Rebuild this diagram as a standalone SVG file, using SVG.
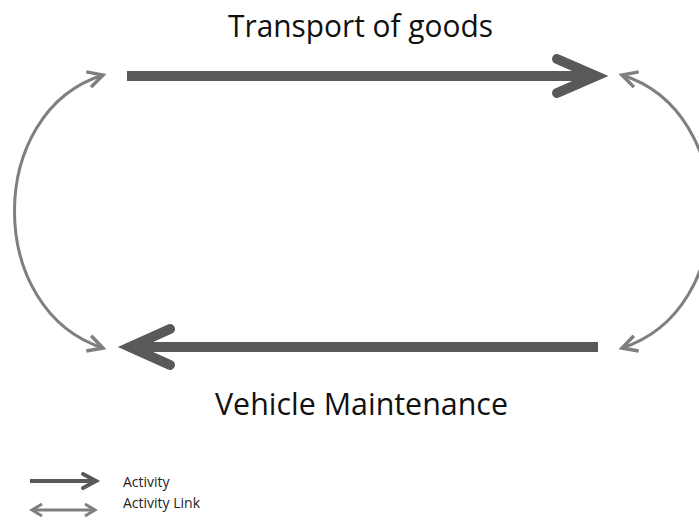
<svg xmlns="http://www.w3.org/2000/svg" width="699" height="521" viewBox="0 0 699 521">
<defs>
<style>
.act{stroke:#595959;stroke-width:10;fill:none;stroke-linecap:butt}
.head{stroke:#595959;stroke-width:10;fill:none;stroke-linecap:round;stroke-linejoin:miter}
.link{stroke:#7f7f7f;stroke-width:3;fill:none}
.lbl{font-family:"Open Sans","Liberation Sans",sans-serif;fill:#111}
.leg{font-family:"Open Sans","Liberation Sans",sans-serif;font-size:14px;fill:#222}
</style>
<marker id="lh" viewBox="-16 -10 20 20" markerWidth="20" markerHeight="20" refX="0" refY="0" orient="auto-start-reverse" markerUnits="userSpaceOnUse">
<path d="M-15,-8 L0,0 L-15,8" fill="none" stroke="#7f7f7f" stroke-width="3.5"/>
</marker>
<marker id="lhs" viewBox="-12 -8 16 16" markerWidth="16" markerHeight="16" refX="0" refY="0" orient="auto-start-reverse" markerUnits="userSpaceOnUse">
<path d="M-10,-6 L0,0 L-10,6" fill="none" stroke="#7f7f7f" stroke-width="3"/>
</marker>
</defs>
<rect width="699" height="521" fill="#fff"/>
<g id="label-transport">
<text class="lbl" x="228" y="37" font-size="31" textLength="265" lengthAdjust="spacingAndGlyphs">Transport of goods</text>
</g>
<g id="label-maintenance">
<text class="lbl" x="215" y="415" font-size="31" textLength="293" lengthAdjust="spacingAndGlyphs">Vehicle Maintenance</text>
</g>
<g id="connectors">
<g id="activity-transport">
<line class="act" x1="127" y1="76" x2="592" y2="76"/>
<path class="head" d="M557,59 L596,76 L557,93"/>
</g>
<g id="activity-maintenance">
<line class="act" x1="598" y1="347" x2="134" y2="347"/>
<path class="head" d="M170,329 L130,347 L170,365"/>
</g>
<path id="link-left" class="link" d="M103,348 C-15,310 -15,112 103,75" marker-start="url(#lh)" marker-end="url(#lh)"/>
<path id="link-right" class="link" d="M622,75 C740,112 740,310 622,348" marker-start="url(#lh)" marker-end="url(#lh)"/>
</g>
<g id="legend">
<line x1="30" y1="481" x2="92" y2="481" stroke="#595959" stroke-width="4"/>
<path d="M83,474 L96,481 L83,488" fill="none" stroke="#595959" stroke-width="4" stroke-linecap="round"/>
<line x1="32" y1="510" x2="95" y2="510" stroke="#7f7f7f" stroke-width="3" marker-start="url(#lhs)" marker-end="url(#lhs)"/>
<text class="leg" x="123" y="487">Activity</text>
<text class="leg" x="123" y="508">Activity Link</text>
</g>
</svg>
